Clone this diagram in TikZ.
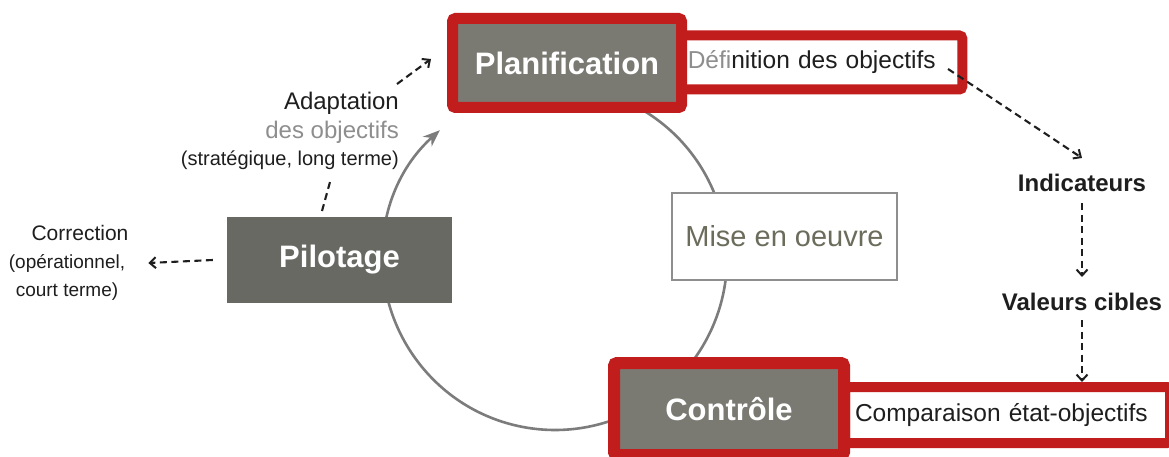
\documentclass[tikz,border=0pt]{standalone}
\usepackage{fontspec}
\setmainfont{Liberation Sans}
\usetikzlibrary{arrows.meta}
\definecolor{redb}{HTML}{C21D1D}
\definecolor{boxgray}{HTML}{7A7A73}
\definecolor{pilgray}{HTML}{696964}
\definecolor{circgray}{HTML}{7C7C7C}
\definecolor{misetxt}{HTML}{6C6C5C}
\definecolor{softgray}{HTML}{8E8E8E}
\definecolor{inkblack}{HTML}{1E1E1E}
\tikzset{
  mainbox/.style={draw=redb, line width=11pt, fill=boxgray, rounded corners=3pt,
    text=white, font=\fontsize{31}{37}\selectfont\bfseries, inner sep=0pt},
  subbox/.style={draw=redb, line width=10pt, fill=white, rounded corners=3pt,
    text=inkblack, font=\fontsize{24.5}{29}\selectfont, inner sep=0pt, align=left},
  plainlbl/.style={inner sep=0pt, text=inkblack},
  boldlbl/.style={inner sep=0pt, text=inkblack, font=\fontsize{24}{29}\selectfont\bfseries},
  dasharrow/.style={draw=inkblack, line width=2.1pt, dash pattern=on 7pt off 4.5pt,
    -{Straight Barb[length=6pt,width=11pt,line width=2pt]}},
  dashline/.style={draw=inkblack, line width=2.1pt, dash pattern=on 7pt off 4.5pt},
  cycle line/.style={draw=circgray, line width=2.6pt}
}
\begin{document}
\begin{tikzpicture}[x=1pt,y=-1pt]
\useasboundingbox (0,0) rectangle (1169,457);
\clip (0,0) rectangle (1169,457);
\fill[white] (0,0) rectangle (1169,457);

% cycle
\draw[cycle line, {Stealth[length=17pt,width=13pt]}-] (555,258) ++(228:172)
  arc[start angle=228, end angle=-60, radius=172];

% Planification + definition
\node[subbox, minimum width=280.5pt, minimum height=54pt, text width=268.5pt] (def) at (822,62.5)
  {{\color{softgray}Défi}nition des objectifs};
\node[mainbox, minimum width=229pt, minimum height=89pt] (plan) at (567,63) {Planification};

% Contrôle + comparaison
\node[subbox, minimum width=325pt, minimum height=56pt, text width=305pt] (comp) at (1007.5,415)
  {Comparaison état-objectifs};
\node[mainbox, line width=12pt, minimum width=230pt, minimum height=92pt] (ctrl) at (729,409)
  {\raisebox{-4pt}{Contrôle}};

% Pilotage
\node[fill=pilgray, minimum width=225pt, minimum height=86pt, inner sep=0pt, text=white,
  font=\fontsize{31}{37}\selectfont\bfseries] (pil) at (339.5,260) {Pilotage};

% Mise en oeuvre
\node[draw=softgray, line width=1.5pt, fill=white, minimum width=225pt, minimum height=87pt,
  inner sep=0pt, text=misetxt, font=\fontsize{29}{34}\selectfont] (mise) at (784.5,236.5) {Mise en oeuvre};

% Adaptation labels
\node[plainlbl, anchor=east, font=\fontsize{24}{29}\selectfont] (adapt1) at (399,103) {Adaptation};
\node[plainlbl, anchor=east, text=softgray, font=\fontsize{24}{29}\selectfont] (adapt2) at (399,132) {des objectifs};
\node[plainlbl, anchor=east, font=\fontsize{20}{24}\selectfont] (adapt3) at (399,160) {(stratégique, long terme)};
\coordinate (adaptStart) at (397,84);
\coordinate (adaptTip) at (431,59);
\draw[dasharrow] (adaptStart) -- (adaptTip);
\coordinate (pilLinkA) at (322,211);
\coordinate (pilLinkB) at (330,182);
\draw[dashline] (pilLinkA) -- (pilLinkB);

% Correction labels
\node[plainlbl, font=\fontsize{21}{25}\selectfont] (corr1) at (80,233) {Correction};
\node[plainlbl, font=\fontsize{19}{23}\selectfont] (corr2) at (67,263) {(opérationnel,};
\node[plainlbl, font=\fontsize{19}{23}\selectfont] (corr3) at (67,292) {court terme)};
\draw[dasharrow] ([xshift=-14pt]pil.west) -- ([xshift=23pt]corr2.east);

% right chain
\node[boldlbl] (ind) at (1082,183) {Indicateurs};
\node[boldlbl] (val) at (1082,302) {Valeurs cibles};
\coordinate (defOut) at (948,69);
\draw[dasharrow] (defOut) -- ([yshift=16pt]ind.north);
\draw[dasharrow] ([yshift=-11pt]ind.south) -- ([yshift=16pt]val.north);
\draw[dasharrow] ([yshift=-9pt]val.south) -- (val.south |- comp.north);
\end{tikzpicture}
\end{document}
